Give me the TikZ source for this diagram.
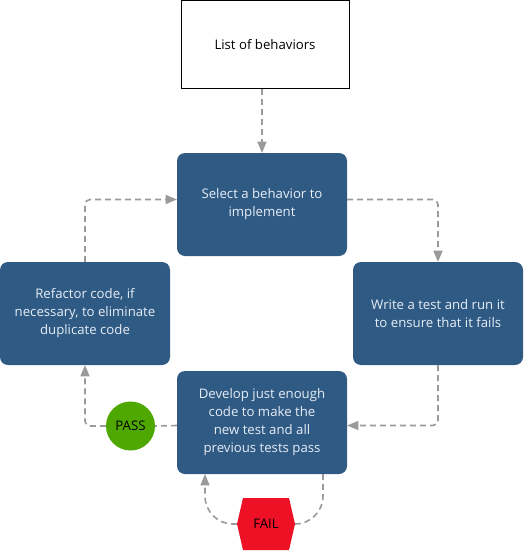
\documentclass[tikz,border=0pt]{standalone}
\usepackage{fontspec}
\setmainfont{Open Sans}
\usepackage{tikz}
\usetikzlibrary{arrows,shapes.symbols}
\definecolor{boxblue}{HTML}{2F5A84}
\definecolor{boxtext}{HTML}{E6EDF5}
\definecolor{flowgray}{HTML}{9A9A9A}
\definecolor{passgreen}{HTML}{4FA800}
\definecolor{failred}{HTML}{EE1126}

\begin{document}
\begin{tikzpicture}[x=1pt,y=1pt,>=triangle 45,node distance=218pt,
  stepbox/.style={rectangle,rounded corners=8pt,fill=boxblue,text=boxtext,
    minimum width=170pt,minimum height=103pt,align=center,inner sep=0pt,
    font=\fontsize{13.2}{18}\selectfont},
  listbox/.style={rectangle,draw=black,line width=1pt,fill=white,
    minimum width=168pt,minimum height=88pt,font=\fontsize{13.2}{18}\selectfont},
  passdot/.style={circle,fill=passgreen,minimum size=49pt,inner sep=0pt,
    font=\fontsize{13.2}{18}\selectfont},
  failsign/.style={signal,signal to=east and west,signal pointer angle=154,
    fill=failred,minimum width=58pt,minimum height=52pt,inner sep=0pt,
    font=\fontsize{13.2}{18}\selectfont},
  flow/.style={draw=flowgray,line width=1.6pt,dash pattern=on 6pt off 4pt,
    rounded corners=5pt}]
  \useasboundingbox (0,0) rectangle (523,-551);

  \node[listbox]  (list)     at (265,-44.5) {List of behaviors};
  \node[stepbox]  (select)   at (262,-204.5) {Select a behavior to\\implement};
  \node[stepbox]  (write)    at (438,-313.5) {Write a test and run it\\to ensure that it fails};
  \node[stepbox]  (refactor) at (85,-313.5) {Refactor code, if\\necessary, to eliminate\\duplicate code};
  \node[stepbox]  (develop)  [below of=select] {Develop just enough\\code to make the\\new test and all\\previous tests pass};
  \node[passdot]  (pass)     at (130.5,-426) {PASS};
  \node[failsign] (fail)     at (266,-524) {FAIL};

  % the cycle
  \draw[flow,->] (list.south -| select.north) -- (select.north);
  \draw[flow,->] ([yshift=5pt]select.east) -| (write.north);
  \draw[flow,->] (write.south) |- ([yshift=-3pt]develop.east);
  \draw[flow] ([yshift=-3pt]develop.west) -- (pass.east);
  \draw[flow,->] (pass.west) -| (refactor.south);
  \draw[flow,->] (refactor.north) |- ([yshift=5pt]select.west);
  % failing loop
  \draw[flow,rounded corners=28pt] ([xshift=61pt]develop.south) |- (fail.east);
  \draw[flow,->,rounded corners=28pt] (fail.west) -| ([xshift=-57pt]develop.south);
\end{tikzpicture}
\end{document}
